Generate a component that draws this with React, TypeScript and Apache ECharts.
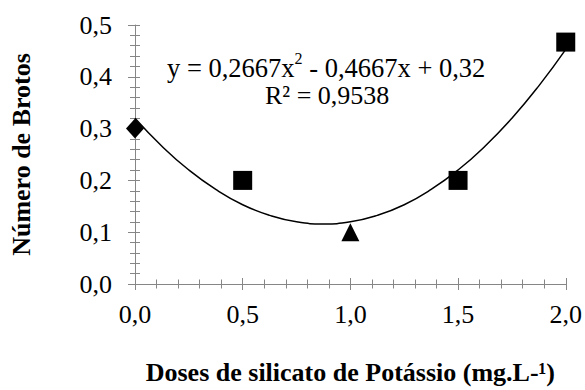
import React, { useEffect, useRef } from "react";
import * as echarts from "echarts";

const doses = [0, 0.5, 1.0, 1.5, 2.0];
const brotos = [0.3, 0.2, 0.1, 0.2, 0.467];
const pointSymbols = ["diamond", "rect", "triangle", "rect", "rect"];

const trendX = [0, 0.125, 0.25, 0.375, 0.5, 0.625, 0.75, 0.875, 1.0, 1.125, 1.25, 1.375, 1.5, 1.625, 1.75, 1.875, 2.0];
const trendY = [0.32, 0.266, 0.22, 0.1825, 0.153, 0.1325, 0.12, 0.116, 0.12, 0.1325, 0.153, 0.1825, 0.22, 0.266, 0.32, 0.3825, 0.453];

const xTitle = "Doses de silicato de Potássio (mg.L-¹)";
const yTitle = "Número de Brotos";
const eqPart1 = "y = 0,2667x";
const eqSup = "2";
const eqPart2 = " - 0,4667x + 0,32";
const r2Text = "R² = 0,9538";

const FONT = "Liberation Serif";
const AXIS_COLOR = "#868686";

const fmt = (v: number) => v.toFixed(1).replace(".", ",");

export default function App() {
  const ref = useRef<HTMLDivElement>(null);
  useEffect(() => {
    document.body.style.margin = "0";
    if (!ref.current) return;
    const chart = echarts.init(ref.current, null, { renderer: "svg" });
    const sizes: Record<string, number[]> = {
      diamond: [18, 20],
      rect: [19, 19],
      triangle: [18, 18],
    };
    const baseX = {
      type: "value",
      min: 0,
      max: 2,
      interval: 0.5,
      splitLine: { show: false },
    };
    const baseY = {
      type: "value",
      min: 0,
      max: 0.5,
      interval: 0.1,
      splitLine: { show: false },
    };
    chart.setOption({
      animation: false,
      grid: { left: 127, right: 18, top: 25, bottom: 93, containLabel: false },
      xAxis: [
        {
          ...baseX,
          name: xTitle,
          nameLocation: "middle",
          nameGap: 75,
          nameTextStyle: { fontFamily: FONT, fontSize: 26, fontWeight: "bold", color: "#000" },
          axisLine: { show: true, onZero: false, lineStyle: { color: AXIS_COLOR, width: 1 } },
          axisTick: { show: true, inside: false, length: 6, lineStyle: { color: AXIS_COLOR } },
          minorTick: { show: true, splitNumber: 5, length: 4.5, lineStyle: { color: AXIS_COLOR } },
          axisLabel: { fontFamily: FONT, fontSize: 26, color: "#000", margin: 17, formatter: fmt },
        },
        {
          ...baseX,
          position: "bottom",
          axisLine: { show: false },
          axisTick: { show: true, inside: true, length: 6, lineStyle: { color: AXIS_COLOR } },
          minorTick: { show: true, splitNumber: 5, length: 4.5, lineStyle: { color: AXIS_COLOR } },
          axisLabel: { show: false },
        },
      ],
      yAxis: [
        {
          ...baseY,
          name: yTitle,
          nameLocation: "middle",
          nameGap: 101,
          nameRotate: 90,
          nameTextStyle: { fontFamily: FONT, fontSize: 26, fontWeight: "bold", color: "#000" },
          axisLine: { show: true, onZero: false, lineStyle: { color: AXIS_COLOR, width: 1 } },
          axisTick: { show: true, inside: false, length: 7, lineStyle: { color: AXIS_COLOR } },
          minorTick: { show: true, splitNumber: 5, length: 5, lineStyle: { color: AXIS_COLOR } },
          axisLabel: { fontFamily: FONT, fontSize: 26, color: "#000", margin: 23, formatter: fmt },
        },
        {
          ...baseY,
          position: "left",
          axisLine: { show: false },
          axisTick: { show: true, inside: true, length: 5, lineStyle: { color: AXIS_COLOR } },
          minorTick: { show: true, splitNumber: 5, length: 5, lineStyle: { color: AXIS_COLOR } },
          axisLabel: { show: false },
        },
      ],
      series: [
        {
          type: "line",
          data: trendX.map((x, i) => [x, trendY[i]]),
          smooth: true,
          showSymbol: false,
          symbol: "none",
          lineStyle: { color: "#000", width: 1.5 },
          z: 2,
        },
        {
          type: "scatter",
          clip: false,
          data: doses.map((x, i) => ({
            value: [x, brotos[i]],
            symbol: pointSymbols[i],
            symbolSize: sizes[pointSymbols[i]],
          })),
          itemStyle: { color: "#000", opacity: 1 },
          z: 3,
        },
      ],
      graphic: [
        {
          type: "text",
          left: 167,
          top: 50,
          style: {
            text: `{a|${eqPart1}}{s|${eqSup}}{a|${eqPart2}}`,
            rich: {
              a: { fontFamily: FONT, fontSize: 26.5, fill: "#000", lineHeight: 31, verticalAlign: "bottom" },
              s: { fontFamily: FONT, fontSize: 16, fill: "#000", lineHeight: 31, verticalAlign: "top" },
            },
          },
        },
        {
          type: "text",
          left: 265,
          top: 82,
          style: { text: r2Text, fontFamily: FONT, fontSize: 26, fill: "#000" },
        },
      ],
    });
    return () => chart.dispose();
  }, []);
  return <div ref={ref} style={{ width: 585, height: 390 }} />;
}
